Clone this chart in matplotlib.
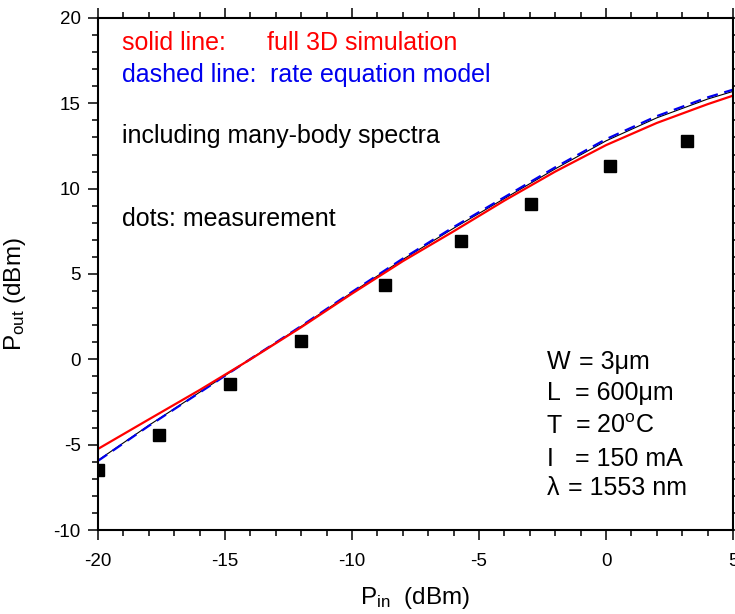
import numpy as np
import matplotlib.pyplot as plt
from matplotlib.ticker import MultipleLocator

plt.rcParams['font.family'] = ['Liberation Sans', 'DejaVu Sans']
plt.rcParams['mathtext.fontset'] = 'custom'
plt.rcParams['mathtext.rm'] = 'Liberation Sans'
plt.rcParams['mathtext.it'] = 'Liberation Sans'
plt.rcParams['axes.unicode_minus'] = False

# measured points (dots)
meas_pin = [-20.0, -17.6, -14.8, -12.0, -8.7, -5.7, -2.95, 0.15, 3.2]
meas_pout = [-6.5, -4.45, -1.45, 1.1, 4.35, 6.95, 9.1, 11.3, 12.8]

# curve points
pin = [-20, -18, -16, -14, -12, -10, -8, -6, -4, -2, 0, 2, 4, 5]
pout_3d = [-5.25, -3.52, -1.8, 0.0, 1.88, 3.85, 5.75, 7.5, 9.3, 11.0, 12.55, 13.85, 14.95, 15.45]
pout_rate = [-5.95, -3.9, -1.95, 0.02, 1.95, 3.95, 5.9, 7.75, 9.5, 11.25, 12.9, 14.25, 15.35, 15.8]
pout_thin = [-5.92, -3.87, -1.93, 0.02, 1.93, 3.92, 5.85, 7.68, 9.42, 11.16, 12.8, 14.15, 15.25, 15.7]

fig = plt.figure(figsize=(7.35, 6.14), dpi=100)
ax = fig.add_axes([0.1333, 0.1368, 0.8640, 0.8339])

ax.plot(pin, pout_thin, color='black', lw=0.8)
ax.plot(pin, pout_rate, color='#0000ee', lw=1.6, dashes=(5, 3))
ax.plot(pin, pout_3d, color='#ff0000', lw=1.6)
ax.plot(meas_pin, meas_pout, 's', color='black', ms=8.5, ls='none')

ax.set_xlim(-20, 5)
ax.set_ylim(-10, 20)
ax.xaxis.set_major_locator(MultipleLocator(5))
ax.xaxis.set_minor_locator(MultipleLocator(1))
ax.yaxis.set_major_locator(MultipleLocator(5))
ax.yaxis.set_minor_locator(MultipleLocator(1))
ax.tick_params(which='both', direction='out', top=True, right=True, width=1.1,
               labelsize=13.5)
ax.tick_params(which='major', length=7.5)
ax.tick_params(which='minor', length=4)
ax.tick_params(axis='x', pad=9)
ax.tick_params(axis='y', pad=5)
for s in ax.spines.values():
    s.set_linewidth(1.5)

ax.set_xlabel(r'P$_{\mathrm{in}}$  (dBm)', fontsize=17.5)
ax.set_ylabel(r'P$_{\mathrm{out}}$ (dBm)', fontsize=17.5)
ax.xaxis.set_label_coords(0.5, -0.108)
ax.yaxis.set_label_coords(-0.11, 0.46)

fs = 18
ax.text(0.038, 0.9375, 'solid line:', color='#ff0000', fontsize=fs, transform=ax.transAxes)
ax.text(0.266, 0.9375, 'full 3D simulation', color='#ff0000', fontsize=fs, transform=ax.transAxes)
ax.text(0.038, 0.875, 'dashed line:', color='#0000ee', fontsize=fs, transform=ax.transAxes)
ax.text(0.271, 0.875, 'rate equation model', color='#0000ee', fontsize=fs, transform=ax.transAxes)
ax.text(0.038, 0.756, 'including many-body spectra', color='black', fontsize=fs, transform=ax.transAxes)
ax.text(0.038, 0.594, 'dots: measurement', color='black', fontsize=fs, transform=ax.transAxes)

params = [('W', '= 3\u03bcm'), ('L', '= 600\u03bcm'), ('T', '= 20$^{\\mathrm{o}}$C'),
          ('I', '= 150 mA'), ('\u03bb', '= 1553 nm')]
ys = [0.3145, 0.254, 0.189, 0.125, 0.068]
xs_eq = [0.757, 0.751, 0.751, 0.751, 0.740]
for (k, v), yy, xe in zip(params, ys, xs_eq):
    ax.text(0.707, yy, k, fontsize=fs, transform=ax.transAxes)
    ax.text(xe, yy, v, fontsize=fs, transform=ax.transAxes)

fig.savefig('out.png', dpi=100)
